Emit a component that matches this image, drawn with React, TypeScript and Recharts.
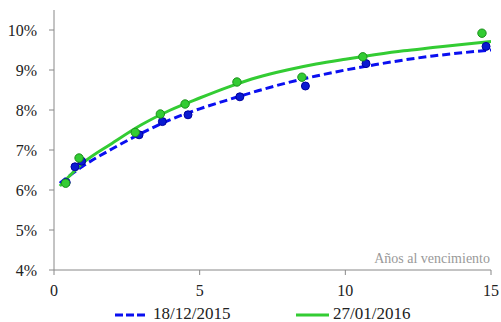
import React from "react";
import { ComposedChart, Line, Scatter, XAxis, YAxis } from "recharts";

const xTicks = [0, 5, 10, 15];
const yTicks = [4, 5, 6, 7, 8, 9, 10];

const seriesA = "18/12/2015";
const seriesB = "27/01/2016";
const axisTitle = "Años al vencimiento";

const pointsA = [
  { x: 0.42, y: 6.19 },
  { x: 0.72, y: 6.58 },
  { x: 0.95, y: 6.72 },
  { x: 2.92, y: 7.38 },
  { x: 3.72, y: 7.71 },
  { x: 4.6, y: 7.88 },
  { x: 6.38, y: 8.33 },
  { x: 8.63, y: 8.6 },
  { x: 10.71, y: 9.16 },
  { x: 14.83, y: 9.59 },
];

const pointsB = [
  { x: 0.4, y: 6.17 },
  { x: 0.86, y: 6.8 },
  { x: 2.79, y: 7.44 },
  { x: 3.65, y: 7.9 },
  { x: 4.5, y: 8.15 },
  { x: 6.28, y: 8.7 },
  { x: 8.51, y: 8.82 },
  { x: 10.6, y: 9.33 },
  { x: 14.69, y: 9.92 },
];

const trendA = [
  { x: 0.2, y: 6.17 },
  { x: 1, y: 6.6 },
  { x: 2, y: 7.03 },
  { x: 3, y: 7.42 },
  { x: 4, y: 7.76 },
  { x: 5, y: 8.03 },
  { x: 6, y: 8.26 },
  { x: 7, y: 8.48 },
  { x: 8, y: 8.68 },
  { x: 9, y: 8.85 },
  { x: 10, y: 9.0 },
  { x: 11, y: 9.13 },
  { x: 12, y: 9.25 },
  { x: 13, y: 9.35 },
  { x: 14, y: 9.43 },
  { x: 15, y: 9.5 },
];

const trendB = [
  { x: 0.2, y: 6.1 },
  { x: 1, y: 6.68 },
  { x: 2, y: 7.17 },
  { x: 3, y: 7.63 },
  { x: 4, y: 8.0 },
  { x: 5, y: 8.3 },
  { x: 6, y: 8.58 },
  { x: 7, y: 8.82 },
  { x: 8, y: 9.0 },
  { x: 9, y: 9.15 },
  { x: 10, y: 9.27 },
  { x: 11, y: 9.38 },
  { x: 12, y: 9.48 },
  { x: 13, y: 9.56 },
  { x: 14, y: 9.64 },
  { x: 15, y: 9.71 },
];

const BLUE = "#0a0ff0";
const GREEN = "#33cc33";
const FONT = "Liberation Serif, Times New Roman, Tinos, DejaVu Serif, serif";

const dotA = (p: any) => (
  <circle cx={p.cx} cy={p.cy} r={4} fill="#0a1ad0" stroke="#0000a0" strokeWidth={1} />
);
const dotB = (p: any) => (
  <circle cx={p.cx} cy={p.cy} r={4.2} fill="#33cc33" stroke="#1c8f1c" strokeWidth={1} />
);

export default function App() {
  return (
    <div style={{ position: "absolute", left: 0, top: 0, width: 501, height: 322, background: "#fff", fontFamily: FONT }}>
      <ComposedChart width={501} height={300} margin={{ top: 10, right: 10, left: 0, bottom: 0 }} style={{ fontFamily: FONT }}>
        <XAxis
          type="number"
          dataKey="x"
          domain={[0, 15]}
          ticks={xTicks}
          allowDataOverflow
          height={30}
          stroke="#888"
          tickSize={5}
          tickMargin={10}
          tick={{ fill: "#222", fontSize: 16, style: { fontFamily: FONT } }}
        />
        <YAxis
          type="number"
          dataKey="y"
          domain={[4, 10.5]}
          ticks={yTicks}
          allowDataOverflow
          width={54}
          stroke="#888"
          tickSize={5}
          tickMargin={12}
          tickFormatter={(v: number) => `${v}%`}
          tick={{ fill: "#222", fontSize: 16, style: { fontFamily: FONT } }}
        />
        <Scatter data={pointsA} dataKey="y" shape={dotA} isAnimationActive={false} />
        <Scatter data={pointsB} dataKey="y" shape={dotB} isAnimationActive={false} />
        <Line
          data={trendA}
          dataKey="y"
          type="monotone"
          stroke={BLUE}
          strokeWidth={3}
          strokeDasharray="8 4"
          dot={false}
          activeDot={false}
          isAnimationActive={false}
        />
        <Line
          data={trendB}
          dataKey="y"
          type="monotone"
          stroke={GREEN}
          strokeWidth={3}
          dot={false}
          activeDot={false}
          isAnimationActive={false}
        />
      </ComposedChart>
      <svg width={501} height={322} style={{ position: "absolute", left: 0, top: 0, pointerEvents: "none", fontFamily: FONT }}>
        <text x={490} y={263} textAnchor="end" fontSize={14} fill="#999" style={{ fontFamily: FONT }}>
          {axisTitle}
        </text>
        <line x1={115} y1={315} x2={146} y2={315} stroke={BLUE} strokeWidth={3} strokeDasharray="8 3" />
        <text x={153} y={319} fontSize={17} fill="#222" style={{ fontFamily: FONT }}>
          {seriesA}
        </text>
        <line x1={296} y1={315} x2={329} y2={315} stroke={GREEN} strokeWidth={3} />
        <text x={333} y={319} fontSize={17} fill="#222" style={{ fontFamily: FONT }}>
          {seriesB}
        </text>
      </svg>
    </div>
  );
}
